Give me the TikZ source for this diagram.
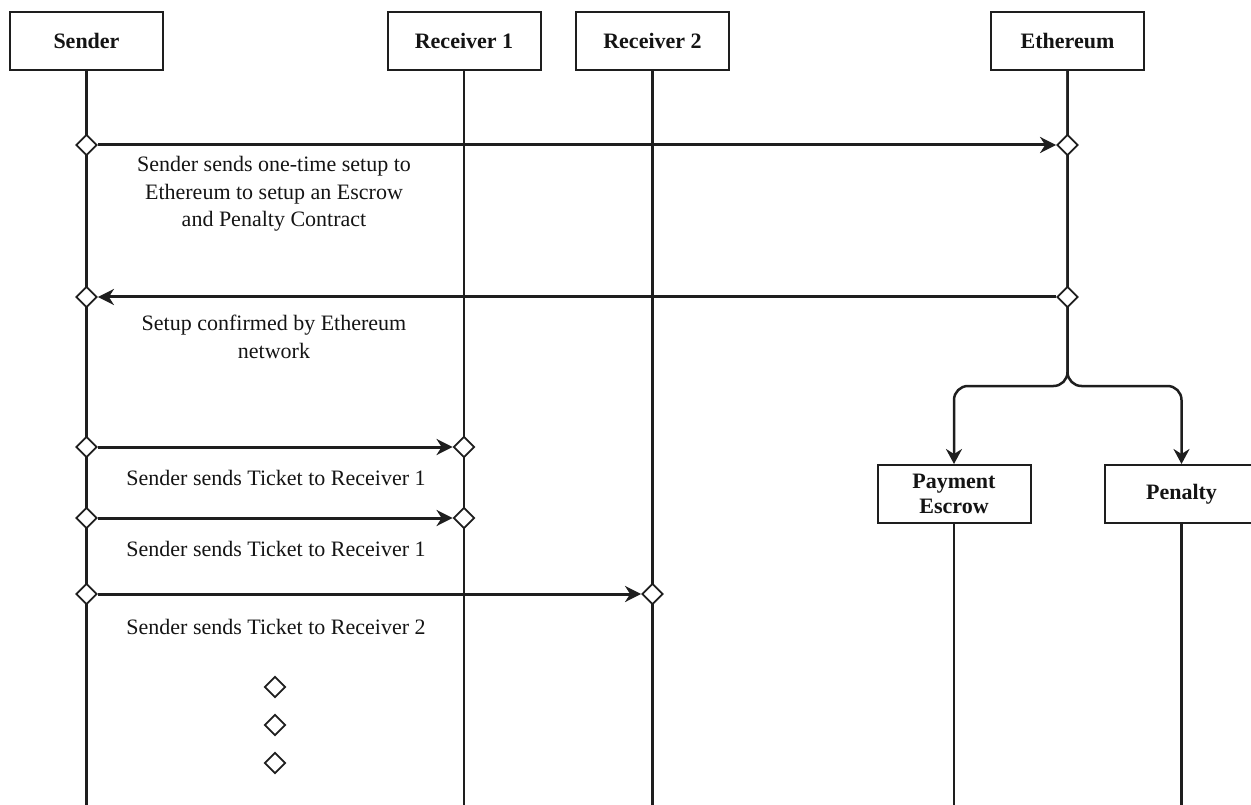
\documentclass[tikz,border=0pt]{standalone}
\usepackage{fontspec}
\setmainfont{Liberation Serif}
\usetikzlibrary{shapes.geometric,arrows.meta}
\definecolor{lc}{HTML}{1E1E1E}
\definecolor{tc}{HTML}{141414}
\begin{document}
\begin{tikzpicture}[x=1pt,y=-1pt,
  actor/.style={draw=lc, line width=2pt, fill=white, minimum width=153pt, minimum height=58pt, inner sep=0pt, font=\fontsize{22}{25}\selectfont\bfseries, align=center, text=tc},
  dia/.style={diamond, draw=lc, fill=white, line width=1.8pt, minimum width=21pt, minimum height=21pt, inner sep=0pt},
  life/.style={draw=lc, line width=2.3pt},
  msg/.style={draw=lc, line width=3pt, -{Stealth[length=16pt,width=16pt,inset=5pt]}},
  branch/.style={draw=lc, line width=2.5pt, rounded corners=14pt, -{Stealth[length=15pt,width=16pt,inset=5pt]}},
  lbl/.style={font=\fontsize{22}{27.5}\selectfont, align=center, text=tc}]
\useasboundingbox (0,0) rectangle (1251,805);
% actors
\node[actor] (snd) at (86.5,41) {Sender};
\node[actor] (r1) at (464,41) {Receiver 1};
\node[actor] (r2) at (652.5,41) {Receiver 2};
\node[actor] (eth) at (1067.5,41) {Ethereum};
\node[actor] (pe) at (954,494) {Payment\\Escrow};
\node[actor] (pen) at (1181.5,494) {Penalty};
% lifeline ends
\coordinate (sndB) at (86.5,805);
\coordinate (r1B) at (464,805);
\coordinate (r2B) at (652.5,805);
\coordinate (peB) at (954,805);
\coordinate (penB) at (1181.5,805);
\coordinate (ethJ) at (1067.5,386);
% lifelines
\draw[life] (snd.south) -- (sndB);
\draw[life] (r1.south) -- (r1B);
\draw[life] (r2.south) -- (r2B);
\draw[life] (pe.south) -- (peB);
\draw[life] (pen.south) -- (penB);
% ethereum branch
\draw[branch] (eth.south) -- (ethJ) -- (pe.north |- ethJ) -- (pe.north);
\draw[branch] (eth.south) -- (ethJ) -- (pen.north |- ethJ) -- (pen.north);
% diamonds
\node[dia] (s1) at (86.5,145) {};
\node[dia] (e1) at (1067.5,145) {};
\node[dia] (e2) at (1067.5,297) {};
\node[dia] (s2) at (86.5,297) {};
\node[dia] (s3) at (86.5,447) {};
\node[dia] (a3) at (464,447) {};
\node[dia] (s4) at (86.5,518) {};
\node[dia] (a4) at (464,518) {};
\node[dia] (s5) at (86.5,594) {};
\node[dia] (b5) at (652.5,594) {};
\node[dia] (d1) at (275,687) {};
\node[dia] (d2) at (275,725) {};
\node[dia] (d3) at (275,763) {};
% messages
\draw[msg] (s1) -- (e1);
\draw[msg] (e2) -- (s2);
\draw[msg] (s3) -- (a3);
\draw[msg] (s4) -- (a4);
\draw[msg] (s5) -- (b5);
% labels
\node[lbl] (t1) at (274,194) {Sender sends one-time setup to\\Ethereum to setup an Escrow\\and Penalty Contract};
\node[lbl] (t2) at (274,337) {Setup confirmed by Ethereum\\network};
\node[lbl] (t3) at (276,478) {Sender sends Ticket to Receiver 1};
\node[lbl] (t4) at (276,549) {Sender sends Ticket to Receiver 1};
\node[lbl] (t5) at (276,627) {Sender sends Ticket to Receiver 2};
\end{tikzpicture}
\end{document}
